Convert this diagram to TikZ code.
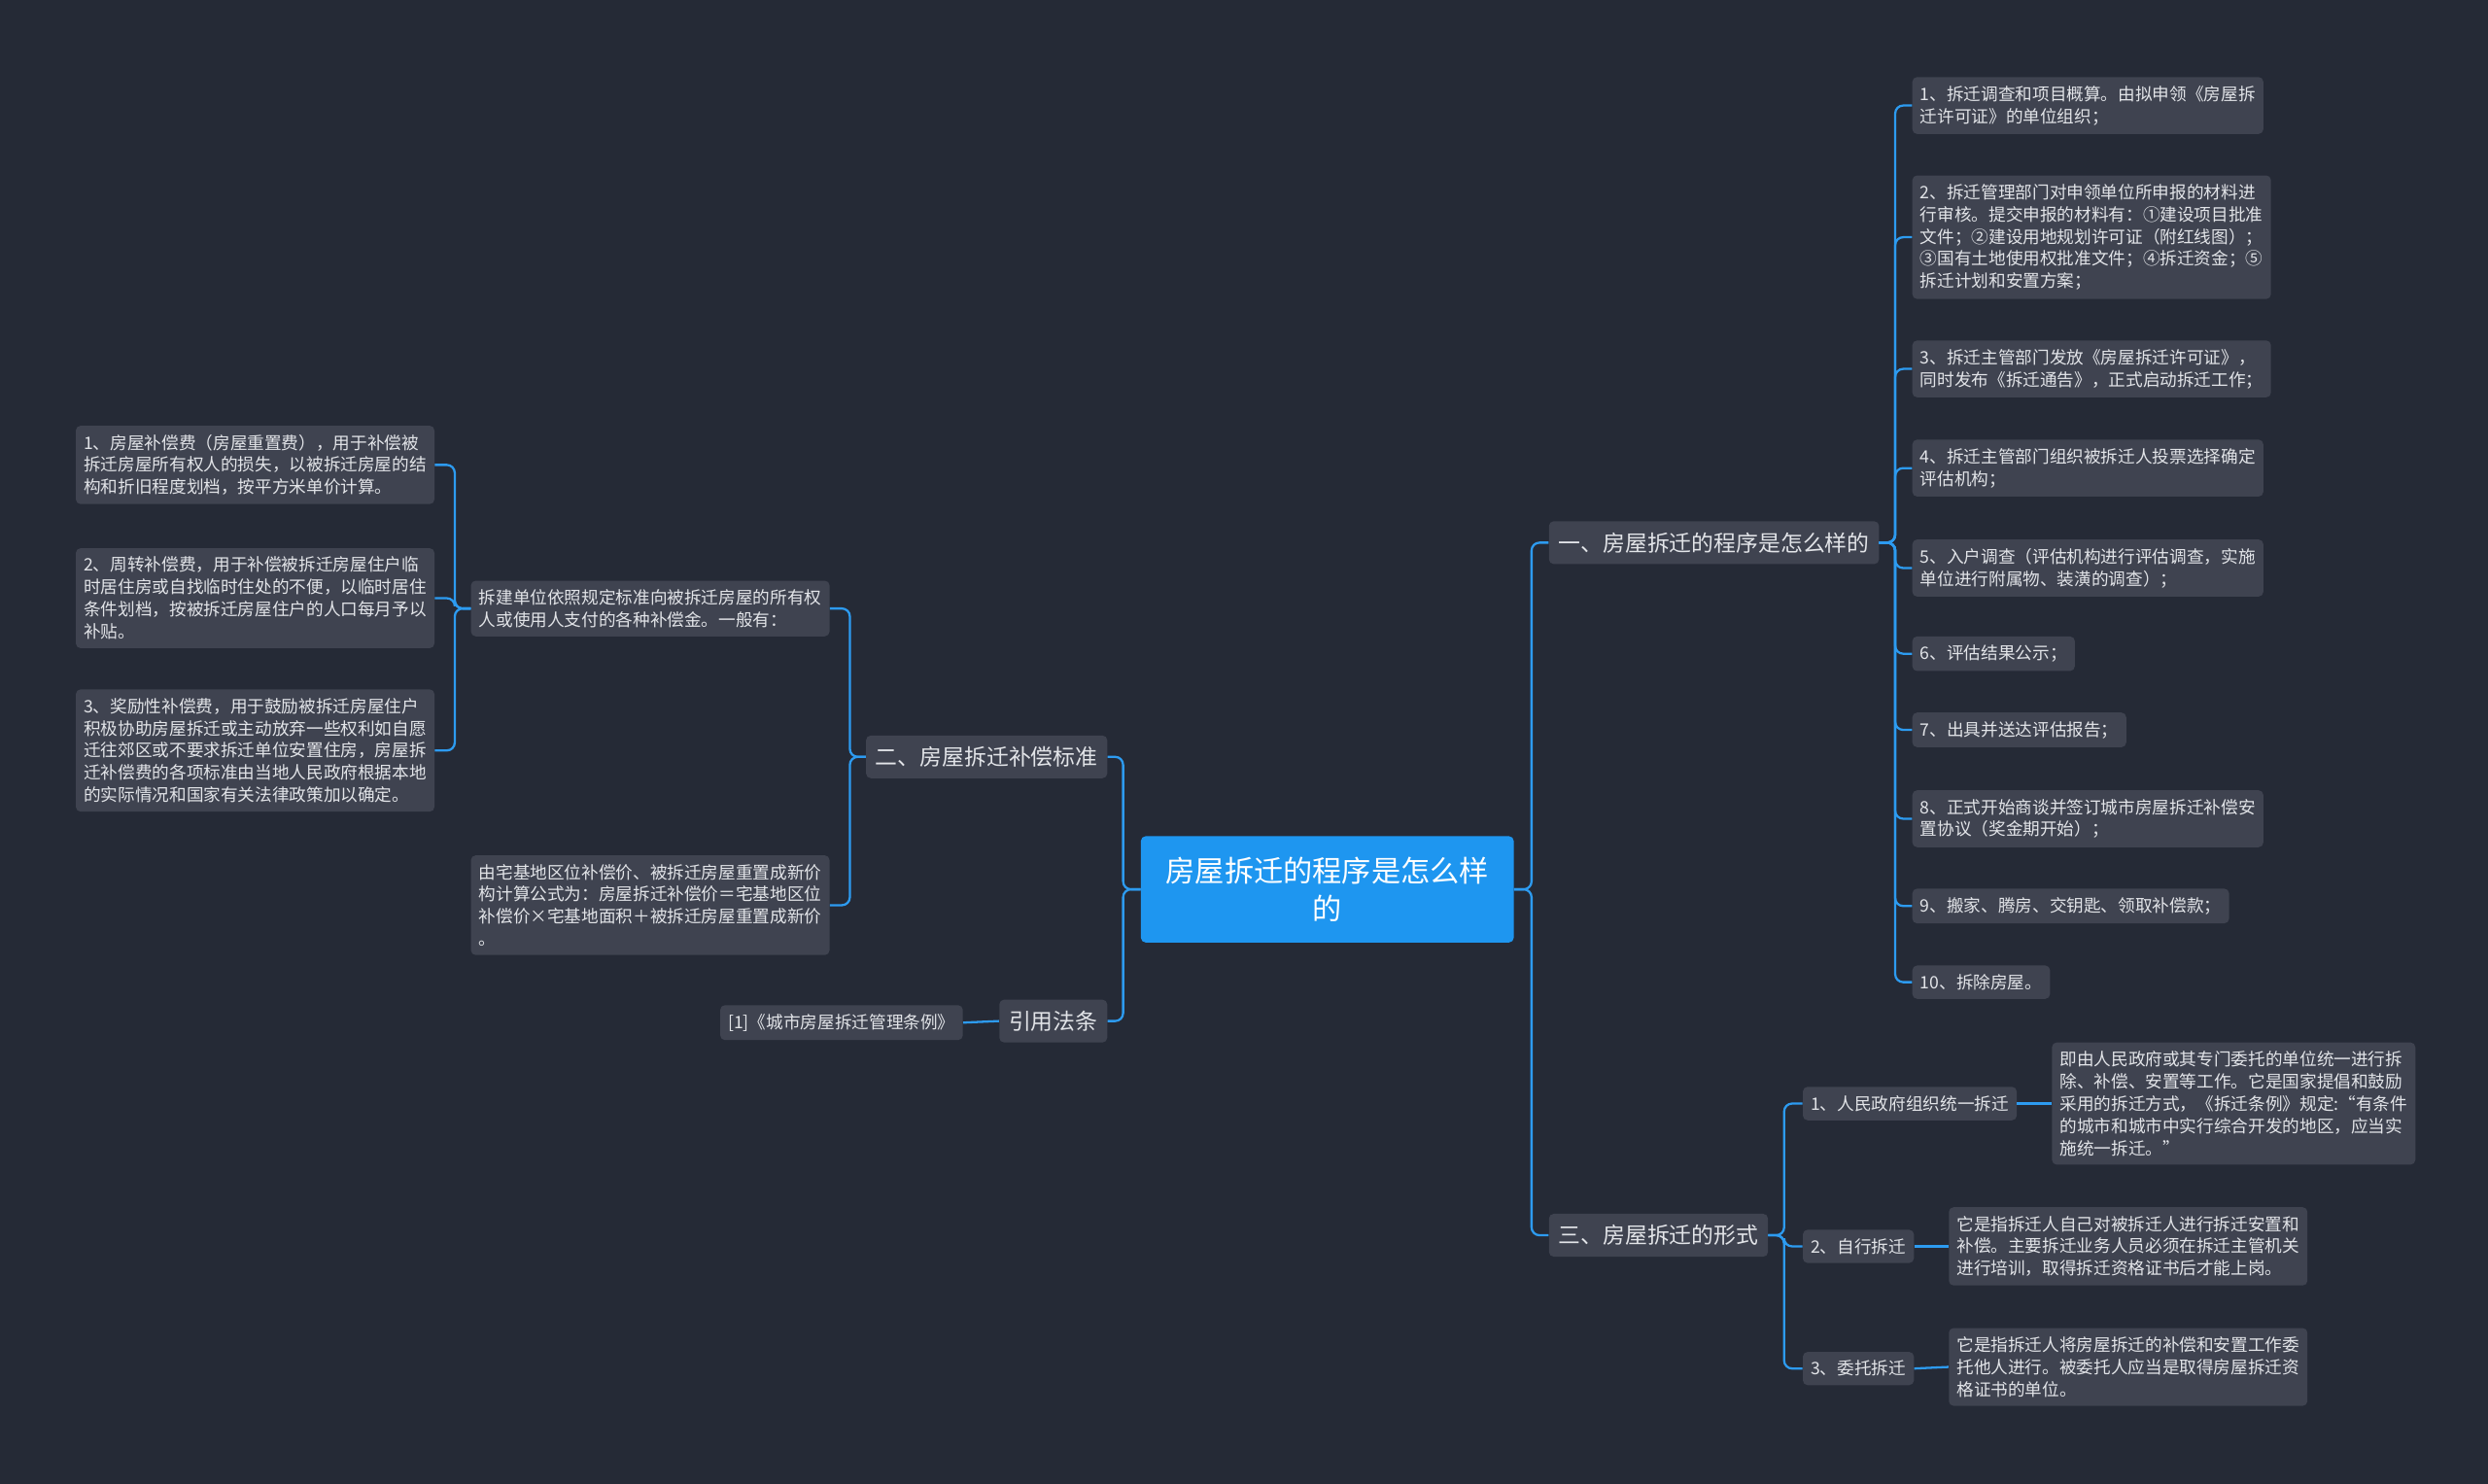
\documentclass[tikz,border=0pt]{standalone}
\usepackage{fontspec}
\setmainfont{Noto Sans CJK SC}
\begin{document}
\begin{tikzpicture}[x=1pt,y=-1pt,
 leaf/.style={fill=leafc,text=txt,rounded corners=3pt,inner xsep=5pt,inner ysep=5.5pt,align=left,font=\fontsize{10.8}{14}\selectfont},
 br/.style={fill=leafc,text=txt,rounded corners=3pt,inner xsep=6pt,inner ysep=7pt,align=left,font=\fontsize{14}{16}\selectfont},
 ln/.style={draw=linec,line width=1.4pt,rounded corners=5pt}]
\definecolor{bg}{HTML}{252A36}
\definecolor{leafc}{HTML}{3F4350}
\definecolor{txt}{HTML}{E2E4E8}
\definecolor{linec}{HTML}{2D9BF0}
\definecolor{cen}{HTML}{1E96F0}
\fill[bg] (0,0) rectangle (1568,935);
\node[fill=cen,text=white,rounded corners=3pt,minimum width=235pt,minimum height=67pt,align=center,font=\fontsize{18.5}{24}\selectfont] (c) at (836.5,560.5) {房屋拆迁的程序是怎么样\\的};
\node[br,anchor=west] (b1) at (976,342) {一、房屋拆迁的程序是怎么样的};
\node[br,anchor=west] (b3) at (976,778.5) {三、房屋拆迁的形式};
\node[br,anchor=east] (b2) at (698,477) {二、房屋拆迁补偿标准};
\node[br,anchor=east] (b4) at (698,643.5) {引用法条};
\node[leaf,anchor=east] (cite) at (607,644.5) {[1]《城市房屋拆迁管理条例》};
\foreach \n/\y/\t in {
 r1/66.5/{1、拆迁调查和项目概算。由拟申领《房屋拆\\迁许可证》的单位组织；},
 r2/149.5/{2、拆迁管理部门对申领单位所申报的材料进\\行审核。提交申报的材料有：①建设项目批准\\文件；②建设用地规划许可证（附红线图）；\\③国有土地使用权批准文件；④拆迁资金；⑤\\拆迁计划和安置方案；},
 r3/232.5/{3、拆迁主管部门发放《房屋拆迁许可证》，\\同时发布《拆迁通告》，正式启动拆迁工作；},
 r4/295/{4、拆迁主管部门组织被拆迁人投票选择确定\\评估机构；},
 r5/358/{5、入户调查（评估机构进行评估调查，实施\\单位进行附属物、装潢的调查）；},
 r6/412/{6、评估结果公示；},
 r7/460/{7、出具并送达评估报告；},
 r8/516/{8、正式开始商谈并签订城市房屋拆迁补偿安\\置协议（奖金期开始）；},
 r9/571/{9、搬家、腾房、交钥匙、领取补偿款；},
 r10/619/{10、拆除房屋。}}
 {\node[leaf,anchor=west] (\n) at (1205,\y) {\t};
  \draw[ln] (b1.east) -- ++(10,0) |- (\n.west);}
\foreach \n/\y/\t in {f1/695.5/{1、人民政府组织统一拆迁},f2/785.5/{2、自行拆迁},f3/862.5/{3、委托拆迁}}
 {\node[leaf,anchor=west] (\n) at (1136,\y) {\t};
  \draw[ln] (b3.east) -- ++(10,0) |- (\n.west);}
\node[leaf,anchor=west] (d1) at (1293,695.5) {即由人民政府或其专门委托的单位统一进行拆\\除、补偿、安置等工作。它是国家提倡和鼓励\\采用的拆迁方式，《拆迁条例》规定:“有条件\\的城市和城市中实行综合开发的地区，应当实\\施统一拆迁。”};
\node[leaf,anchor=west] (d2) at (1228,785.5) {它是指拆迁人自己对被拆迁人进行拆迁安置和\\补偿。主要拆迁业务人员必须在拆迁主管机关\\进行培训，取得拆迁资格证书后才能上岗。};
\node[leaf,anchor=west] (d3) at (1228,861.5) {它是指拆迁人将房屋拆迁的补偿和安置工作委\\托他人进行。被委托人应当是取得房屋拆迁资\\格证书的单位。};
\draw[ln] (f1.east) -- (d1.west);
\draw[ln] (f2.east) -- (d2.west);
\draw[ln] (f3.east) -- (d3.west);
\node[leaf,anchor=east] (a) at (523,383.5) {拆建单位依照规定标准向被拆迁房屋的所有权\\人或使用人支付的各种补偿金。一般有：};
\node[leaf,anchor=east] (b) at (523,570.5) {由宅基地区位补偿价、被拆迁房屋重置成新价\\构计算公式为：房屋拆迁补偿价＝宅基地区位\\补偿价×宅基地面积＋被拆迁房屋重置成新价\\。};
\foreach \n/\y/\t in {
 l1/293/{1、房屋补偿费（房屋重置费），用于补偿被\\拆迁房屋所有权人的损失，以被拆迁房屋的结\\构和折旧程度划档，按平方米单价计算。},
 l2/377/{2、周转补偿费，用于补偿被拆迁房屋住户临\\时居住房或自找临时住处的不便，以临时居住\\条件划档，按被拆迁房屋住户的人口每月予以\\补贴。},
 l3/473/{3、奖励性补偿费，用于鼓励被拆迁房屋住户\\积极协助房屋拆迁或主动放弃一些权利如自愿\\迁往郊区或不要求拆迁单位安置住房，房屋拆\\迁补偿费的各项标准由当地人民政府根据本地\\的实际情况和国家有关法律政策加以确定。}}
 {\node[leaf,anchor=east] (\n) at (274,\y) {\t};
  \draw[ln] (a.west) -- ++(-10,0) |- (\n.east);}
\draw[ln] (b2.west) -- ++(-10,0) |- (a.east);
\draw[ln] (b2.west) -- ++(-10,0) |- (b.east);
\draw[ln] (b4.west) -- (cite.east);
\draw[ln] (c.east) -- ++(11,0) |- (b1.west);
\draw[ln] (c.east) -- ++(11,0) |- (b3.west);
\draw[ln] (c.west) -- ++(-11,0) |- (b2.east);
\draw[ln] (c.west) -- ++(-11,0) |- (b4.east);
\end{tikzpicture}
\end{document}
